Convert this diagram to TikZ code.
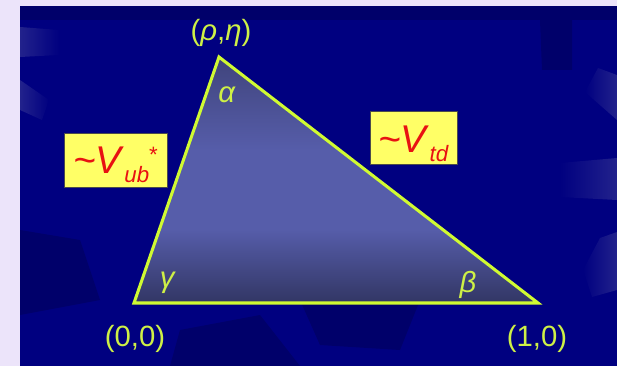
\documentclass[tikz,border=0pt]{standalone}
\usepackage{fontspec}
\setmainfont{Liberation Sans}
\definecolor{lavbg}{RGB}{236,228,250}
\definecolor{navybg}{RGB}{0,0,128}
\definecolor{navydark}{RGB}{0,0,106}
\definecolor{navylight}{RGB}{34,34,140}
\definecolor{limeline}{RGB}{208,250,50}
\definecolor{limetext}{RGB}{206,240,70}
\definecolor{boxyellow}{RGB}{255,255,102}
\definecolor{ckmred}{RGB}{232,18,18}
\definecolor{tritop}{RGB}{64,68,124}
\definecolor{trimid}{RGB}{86,93,170}
\definecolor{tribot}{RGB}{50,54,100}
\pgfdeclareverticalshading{trishade}{100bp}{color(0bp)=(tribot); color(25bp)=(tribot); color(40bp)=(trimid); color(56bp)=(trimid); color(75bp)=(tritop); color(100bp)=(tritop)}
\newcommand{\ckmlabel}[2]{\fontsize{33}{33}\selectfont\textit{\textasciitilde V}\raisebox{-8pt}{\fontsize{19}{19}\selectfont\textit{#1}}#2}

\begin{document}
\begin{tikzpicture}[x=0.03cm, y=-0.03cm,
            vlabel/.style={text=limetext, font=\fontsize{25}{25}\selectfont, anchor=base, inner sep=0pt},
            ckmbox/.style={rectangle, fill=boxyellow, draw=gray!60!black, line width=0.4pt, inner sep=0pt, text=ckmred}]
            \useasboundingbox (0, 0) rectangle (617, 366);
            \fill[lavbg] (0, 0) rectangle (617, 366);
            \fill[navybg] (20, 6) rectangle (617, 366);

            \fill[navydark] (20, 6) rectangle (617, 20);
            \fill[navydark] (540, 20) -- (572, 20) -- (572, 70) -- (542, 70) -- cycle;
            \fill[navydark] (20, 230) -- (80, 240) -- (100, 300) -- (20, 315) -- cycle;
            \fill[navydark] (180, 330) -- (260, 315) -- (300, 366) -- (170, 366) -- cycle;
            \fill[navydark] (300, 300) -- (420, 300) -- (400, 350) -- (320, 345) -- cycle;
            \shade[left color=navylight, right color=navybg] (20, 27) -- (59, 30) -- (59, 55) -- (20, 57) -- cycle;
            \shade[left color=navylight, right color=navybg] (20, 80) -- (49, 100) -- (42, 120) -- (20, 110) -- cycle;
            \shade[right color=navylight, left color=navybg] (598, 68) -- (617, 75) -- (617, 120) -- (585, 92) -- cycle;
            \shade[right color=navylight, left color=navybg] (560, 163) -- (617, 158) -- (617, 200) -- (560, 197) -- cycle;
            \shade[right color=navylight, left color=navybg] (600, 238) -- (617, 232) -- (617, 290) -- (592, 297) -- (583, 270) -- cycle;

            \coordinate (O) at (134, 303);
            \coordinate (R) at (219, 57);
            \coordinate (U) at (538, 303);

            \shade[shading=trishade] (O) -- (R) -- (U) -- cycle;
            \draw[limeline, line width=2.6pt] (O) -- (R) -- (U) -- cycle;

            \node (rhoeta) at (221, 41) [vlabel]{(\textit{ρ},\textit{η})};
            \node (zero) at (135, 346) [vlabel]{(0,0)};
            \node (one) at (537, 346) [vlabel]{(1,0)};
            \node (alpha) at (227, 102) [vlabel]{\textit{α}};
            \node (gamma) at (168, 287) [vlabel]{\textit{γ}};
            \node (beta) at (468, 292) [vlabel]{\textit{β}};

            \node (vub) at (115.5, 160) [ckmbox, minimum width=3.09cm, text height=1.2cm, text depth=0.42cm]{\ckmlabel{ub}{\raisebox{9pt}{\fontsize{19}{19}\selectfont *}}};
            \node (vtd) at (413.5, 137.5) [ckmbox, minimum width=2.61cm, text height=1.23cm, text depth=0.36cm]{\ckmlabel{td}{}};
        \end{tikzpicture}
\end{document}
